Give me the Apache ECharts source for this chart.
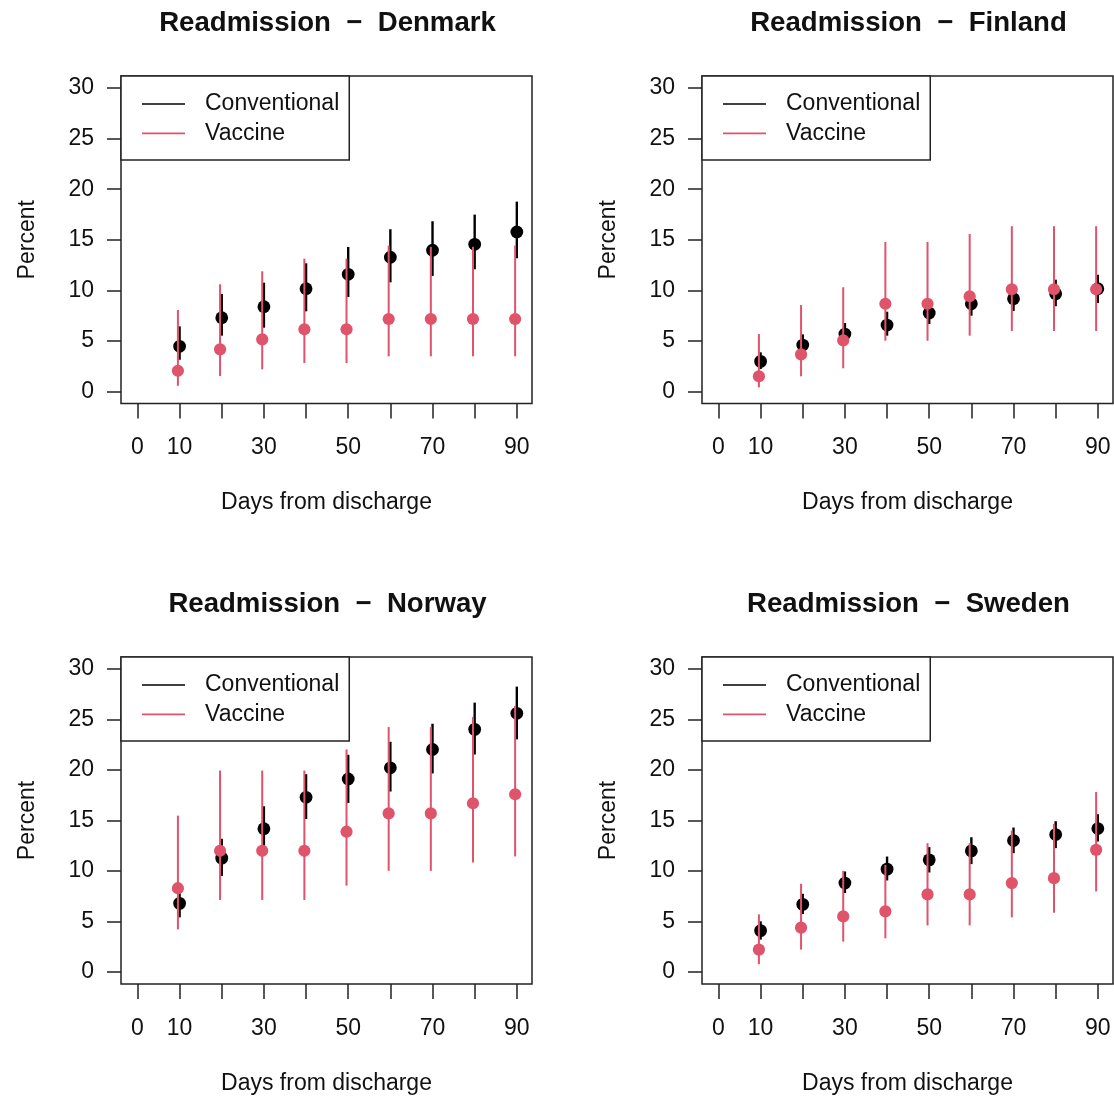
<!DOCTYPE html>
<html>
<head>
<meta charset="utf-8">
<script src="https://cdn.jsdelivr.net/npm/echarts@6/dist/echarts.min.js"></script>
<style>
  html, body { margin: 0; padding: 0; background: #fff; }
  #chart { width: 1114px; height: 1096px; }
</style>
</head>
<body>
<div id="chart"></div>
<script>
// ---------------- data ----------------
const days = [10, 20, 30, 40, 50, 60, 70, 80, 90];
const xTickValues = [0, 10, 20, 30, 40, 50, 60, 70, 80, 90];
const xTickLabels = [0, 10, 30, 50, 70, 90];
const yTickValues = [0, 5, 10, 15, 20, 25, 30];
const seriesNames = ['Conventional', 'Vaccine'];
const countries = ['Denmark', 'Finland', 'Norway', 'Sweden'];

// Denmark
const denmarkConv   = [4.46, 7.29, 8.38, 10.16, 11.58, 13.27, 13.96, 14.55, 15.77];
const denmarkConvLo = [3.13, 5.51, 6.30, 7.92, 9.34, 10.79, 11.42, 12.08, 13.17];
const denmarkConvHi = [6.43, 9.63, 10.75, 12.67, 14.29, 16.04, 16.83, 17.49, 18.77];
const denmarkVacc   = [2.04, 4.16, 5.15, 6.14, 6.14, 7.16, 7.16, 7.16, 7.16];
const denmarkVaccLo = [0.55, 1.51, 2.18, 2.80, 2.80, 3.47, 3.47, 3.47, 3.47];
const denmarkVaccHi = [8.05, 10.59, 11.88, 13.13, 13.13, 14.42, 14.30, 14.30, 14.42];

// Finland
const finlandConv   = [2.97, 4.58, 5.67, 6.56, 7.75, 8.67, 9.17, 9.66, 10.16];
const finlandConvLo = [2.21, 3.53, 4.68, 5.51, 6.66, 7.49, 7.95, 8.42, 8.74];
const finlandConvHi = [3.86, 5.64, 6.76, 7.88, 8.74, 9.86, 10.13, 11.05, 11.54];
const finlandVacc   = [1.49, 3.66, 5.05, 8.67, 8.67, 9.41, 10.10, 10.10, 10.10];
const finlandVaccLo = [0.40, 1.49, 2.28, 5.01, 5.01, 5.51, 5.97, 5.97, 5.97];
const finlandVaccHi = [5.67, 8.54, 10.30, 14.78, 14.78, 15.57, 16.34, 16.34, 16.34];

// Norway
const norwayConv   = [6.79, 11.27, 14.19, 17.30, 19.12, 20.22, 22.04, 24.03, 25.62];
const norwayConvLo = [5.40, 9.51, 12.50, 15.15, 16.74, 17.87, 19.66, 21.54, 23.04];
const norwayConvHi = [7.79, 13.19, 16.41, 19.59, 21.51, 22.80, 24.59, 26.68, 28.27];
const norwayVacc   = [8.29, 12.00, 12.00, 12.00, 13.89, 15.71, 15.71, 16.71, 17.60];
const norwayVaccLo = [4.21, 7.13, 7.13, 7.13, 8.55, 10.01, 10.01, 10.84, 11.44];
const norwayVaccHi = [15.48, 19.95, 19.95, 19.95, 22.04, 24.26, 24.26, 25.26, 26.35];

// Sweden
const swedenConv   = [4.09, 6.69, 8.80, 10.18, 11.10, 11.99, 13.01, 13.61, 14.20];
const swedenConvLo = [3.20, 5.73, 7.81, 9.06, 9.85, 10.68, 11.76, 12.26, 12.92];
const swedenConvHi = [5.01, 7.74, 9.95, 11.43, 12.36, 13.34, 14.30, 14.93, 15.62];
const swedenVacc   = [2.21, 4.38, 5.50, 6.00, 7.68, 7.68, 8.80, 9.29, 12.09];
const swedenVaccLo = [0.76, 2.21, 3.00, 3.33, 4.61, 4.61, 5.40, 5.86, 7.97];
const swedenVaccHi = [5.70, 8.73, 10.02, 10.60, 12.75, 12.75, 14.00, 14.66, 17.83];

// ---------------- layout / style ----------------
const FONT = '"Liberation Sans", Arial, Helvetica, sans-serif';
const TEXT_COLOR = '#111';
const BOX_COLOR = '#222';
const COLORS = { Conventional: '#000000', Vaccine: '#DF536B' };
const X_OFFSET = { Conventional: 0, Vaccine: -0.4 };
const BAR_WIDTH = { Conventional: 2.4, Vaccine: 2.0 };
const DOT_R = { Conventional: 6.4, Vaccine: 6.1 };

const panelData = {
  Denmark: {
    Conventional: [denmarkConv, denmarkConvLo, denmarkConvHi],
    Vaccine: [denmarkVacc, denmarkVaccLo, denmarkVaccHi]
  },
  Finland: {
    Conventional: [finlandConv, finlandConvLo, finlandConvHi],
    Vaccine: [finlandVacc, finlandVaccLo, finlandVaccHi]
  },
  Norway: {
    Conventional: [norwayConv, norwayConvLo, norwayConvHi],
    Vaccine: [norwayVacc, norwayVaccLo, norwayVaccHi]
  },
  Sweden: {
    Conventional: [swedenConv, swedenConvLo, swedenConvHi],
    Vaccine: [swedenVacc, swedenVaccLo, swedenVaccHi]
  }
};

const panelOffsets = [[0, 0], [581, 0], [0, 581], [581, 581]];
const GRID_LEFT = 121, GRID_TOP = 76, GRID_W = 411, GRID_H = 327.5;

const grids = [], xAxes = [], yAxes = [], titles = [], legends = [], series = [];

countries.forEach((country, i) => {
  const [dx, dy] = panelOffsets[i];
  grids.push({
    left: GRID_LEFT + dx, top: GRID_TOP + dy, width: GRID_W, height: GRID_H,
    show: true, borderColor: BOX_COLOR, borderWidth: 1.5, backgroundColor: 'transparent'
  });
  xAxes.push({
    gridIndex: i, type: 'value', min: -3.9, max: 93.6, position: 'bottom',
    name: 'Days from discharge', nameLocation: 'middle', nameGap: 88,
    nameTextStyle: { fontFamily: FONT, fontSize: 23, color: TEXT_COLOR },
    axisLine: { show: false, onZero: false },
    axisTick: { show: true, inside: false, length: 15, customValues: xTickValues,
                lineStyle: { color: BOX_COLOR, width: 1.5 } },
    axisLabel: { show: true, customValues: xTickLabels, margin: 33,
                 fontFamily: FONT, fontSize: 23, color: TEXT_COLOR },
    splitLine: { show: false }
  });
  yAxes.push({
    gridIndex: i, type: 'value', min: -1.2, max: 31.2, position: 'left',
    name: 'Percent', nameLocation: 'middle', nameGap: 82, nameRotate: 90,
    nameTextStyle: { fontFamily: FONT, fontSize: 23, color: TEXT_COLOR },
    axisLine: { show: false, onZero: false },
    axisTick: { show: true, inside: false, length: 14, customValues: yTickValues,
                lineStyle: { color: BOX_COLOR, width: 1.5 } },
    axisLabel: { show: true, customValues: yTickValues, margin: 27, padding: [5, 0, 0, 0],
                 fontFamily: FONT, fontSize: 23, color: TEXT_COLOR },
    splitLine: { show: false }
  });
  titles.push({
    text: 'Readmission  \u2212  ' + country,
    left: GRID_LEFT + dx + GRID_W / 2 - 4, top: 4 + dy, textAlign: 'center',
    textStyle: { fontFamily: FONT, fontSize: 27.6, fontWeight: 'bold', color: TEXT_COLOR }
  });
  legends.push({
    data: seriesNames,
    orient: 'vertical',
    left: GRID_LEFT + dx, top: GRID_TOP + dy,
    icon: 'rect', itemWidth: 43, itemHeight: 1.6, itemGap: 6.4,
    padding: [16.5, 10, 15, 21],
    backgroundColor: '#fff', borderColor: BOX_COLOR, borderWidth: 1.5, borderRadius: 0,
    selectedMode: false,
    textStyle: { fontFamily: FONT, fontSize: 23, color: TEXT_COLOR, padding: [0, 0, 0, 15] }
  });
  seriesNames.forEach((name) => {
    const [vals, lo, hi] = panelData[country][name];
    const color = COLORS[name];
    series.push({
      type: 'custom', name: name,
      xAxisIndex: i, yAxisIndex: i,
      itemStyle: { color: color },
      encode: { x: 0, y: [1, 2, 3] },
      data: days.map((d, k) => [d + X_OFFSET[name], vals[k], lo[k], hi[k]]),
      renderItem: (params, api) => {
        const x = api.value(0);
        const pLo = api.coord([x, api.value(2)]);
        const pHi = api.coord([x, api.value(3)]);
        const p = api.coord([x, api.value(1)]);
        return {
          type: 'group',
          children: [
            { type: 'line', shape: { x1: pLo[0], y1: pLo[1], x2: pHi[0], y2: pHi[1] },
              style: { stroke: color, lineWidth: BAR_WIDTH[name] } },
            { type: 'circle', shape: { cx: p[0], cy: p[1], r: DOT_R[name] },
              style: { fill: color } }
          ]
        };
      },
      z: 2
    });
  });
});

const chart = echarts.init(document.getElementById('chart'), null, { renderer: 'canvas' });
chart.setOption({
  animation: false,
  backgroundColor: '#fff',
  title: titles,
  legend: legends,
  grid: grids,
  xAxis: xAxes,
  yAxis: yAxes,
  series: series
});
</script>
</body>
</html>
